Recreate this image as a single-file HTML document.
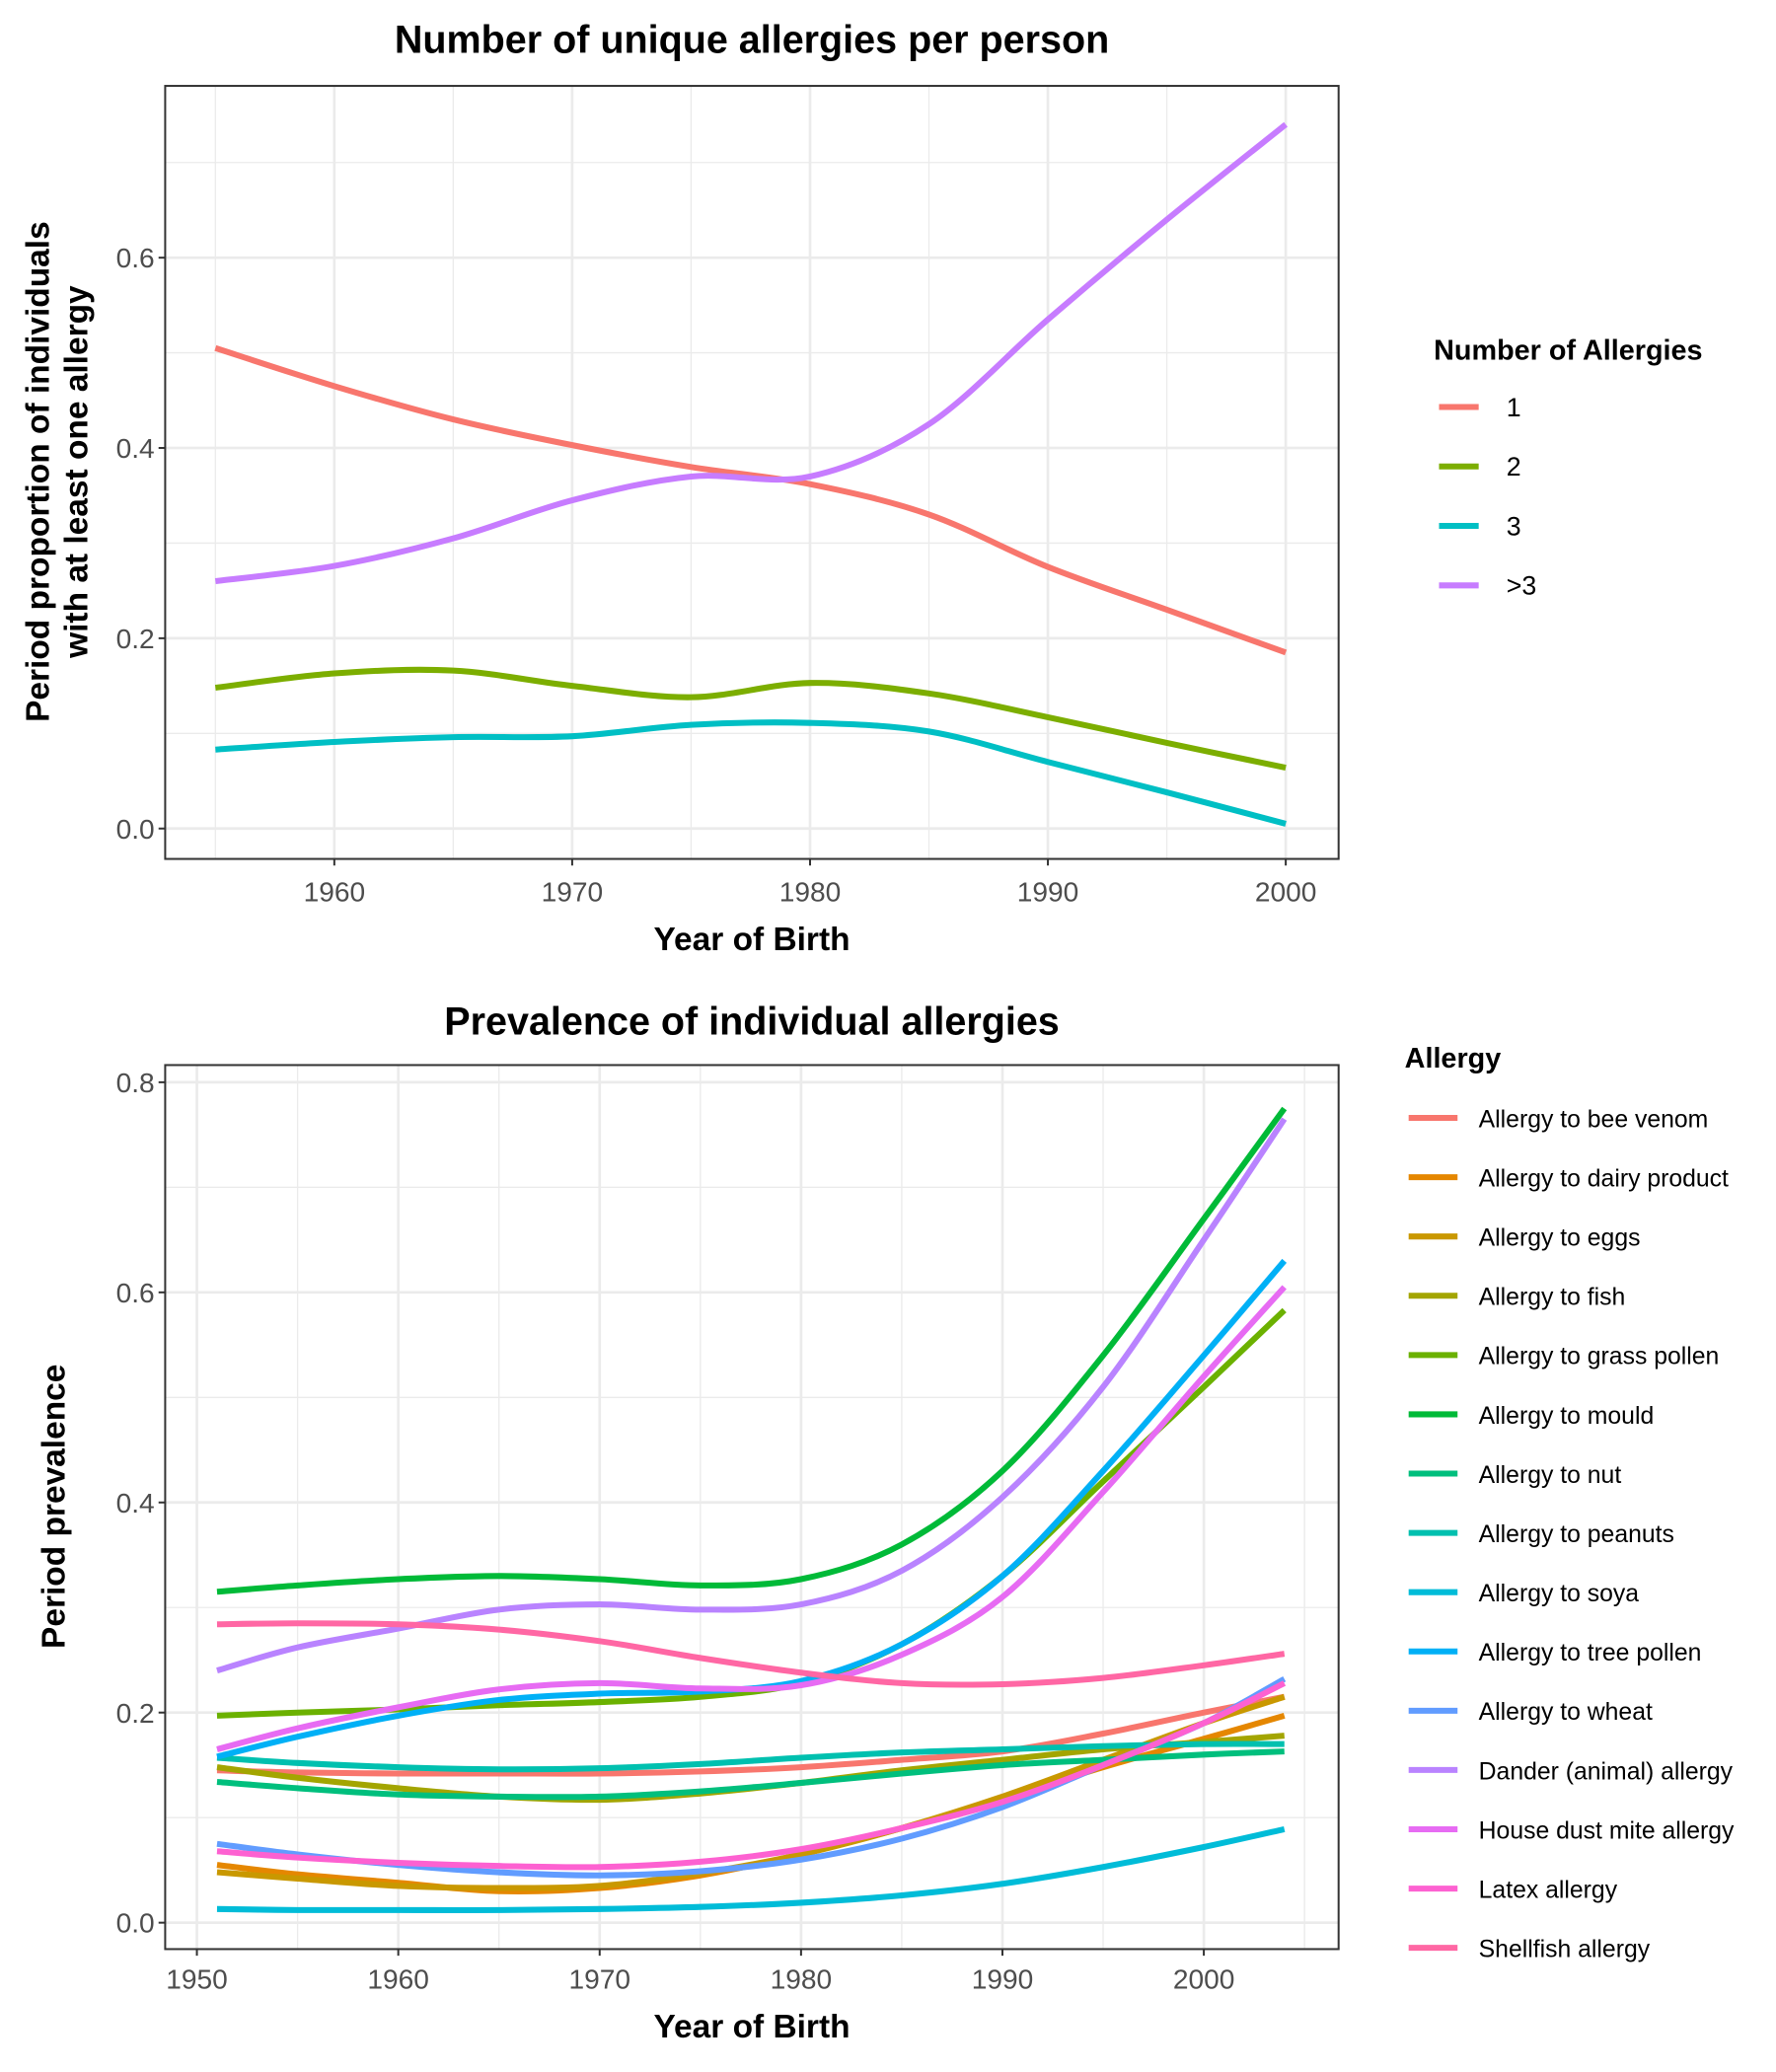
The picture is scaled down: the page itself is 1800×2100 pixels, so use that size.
<!DOCTYPE html>
<html><head><meta charset="utf-8">
<style>
html,body{margin:0;padding:0;background:#fff;}
svg{display:block;font-family:"Liberation Sans",sans-serif;}
</style></head>
<body>
<svg id="chart" width="1800" height="2100" viewBox="0 0 1344 1568" xmlns="http://www.w3.org/2000/svg">
<g id="top"></g>
<g id="bot"></g>
</svg>
<script>
const topYears=[1955,1960,1965,1970,1975,1980,1985,1990,1995,2000];
const topSeriesNames=["1","2","3",">3"];
const topOne=[0.505,0.465,0.43,0.403,0.38,0.362,0.33,0.275,0.23,0.185];
const topTwo=[0.148,0.163,0.166,0.15,0.138,0.153,0.142,0.117,0.09,0.064];
const topThree=[0.083,0.091,0.096,0.097,0.109,0.111,0.102,0.07,0.038,0.005];
const topMore=[0.26,0.276,0.305,0.345,0.37,0.37,0.425,0.535,0.64,0.74];
const topXTicks=[1960,1970,1980,1990,2000];
const topYTicks=[0,0.2,0.4,0.6];

const botYears=[1951,1955,1960,1965,1970,1975,1980,1985,1990,1995,2000,2004];
const botNames=["Allergy to bee venom","Allergy to dairy product","Allergy to eggs","Allergy to fish","Allergy to grass pollen","Allergy to mould","Allergy to nut","Allergy to peanuts","Allergy to soya","Allergy to tree pollen","Allergy to wheat","Dander (animal) allergy","House dust mite allergy","Latex allergy","Shellfish allergy"];
const beeVenom=[0.145,0.143,0.142,0.142,0.142,0.144,0.148,0.155,0.163,0.18,0.2,0.215];
const dairy=[0.055,0.046,0.038,0.03,0.033,0.045,0.065,0.09,0.118,0.148,0.175,0.197];
const eggs=[0.048,0.042,0.035,0.033,0.035,0.047,0.065,0.09,0.12,0.155,0.19,0.215];
const fish=[0.148,0.138,0.128,0.12,0.117,0.123,0.133,0.145,0.155,0.165,0.172,0.178];
const grassPollen=[0.197,0.2,0.203,0.207,0.21,0.215,0.228,0.265,0.33,0.42,0.51,0.583];
const mould=[0.315,0.321,0.327,0.33,0.327,0.321,0.327,0.36,0.43,0.54,0.67,0.775];
const nut=[0.134,0.128,0.122,0.12,0.12,0.125,0.133,0.142,0.15,0.155,0.16,0.163];
const peanuts=[0.157,0.152,0.148,0.146,0.147,0.151,0.157,0.162,0.165,0.168,0.17,0.17];
const soya=[0.013,0.012,0.012,0.012,0.013,0.015,0.019,0.026,0.037,0.053,0.072,0.089];
const treePollen=[0.158,0.177,0.197,0.212,0.218,0.22,0.23,0.265,0.33,0.43,0.54,0.63];
const wheat=[0.075,0.065,0.055,0.048,0.045,0.049,0.06,0.08,0.11,0.15,0.19,0.232];
const dander=[0.24,0.262,0.28,0.298,0.303,0.298,0.303,0.335,0.405,0.51,0.65,0.765];
const houseDust=[0.165,0.185,0.205,0.222,0.228,0.223,0.226,0.255,0.31,0.41,0.52,0.605];
const latex=[0.068,0.062,0.057,0.054,0.053,0.058,0.07,0.09,0.115,0.15,0.19,0.228];
const shellfish=[0.284,0.285,0.284,0.279,0.268,0.252,0.238,0.228,0.227,0.233,0.245,0.256];
const botXTicks=[1950,1960,1970,1980,1990,2000];
const botYTicks=[0,0.2,0.4,0.6,0.8];

const NS="http://www.w3.org/2000/svg";
function mk(parent,tag,attrs,text){const e=document.createElementNS(NS,tag);for(const k in attrs)e.setAttribute(k,attrs[k]);if(text!==undefined)e.textContent=text;parent.appendChild(e);return e;}
function smooth(pts){let d="M"+pts[0][0].toFixed(2)+","+pts[0][1].toFixed(2);for(let i=0;i<pts.length-1;i++){const p0=pts[Math.max(0,i-1)],p1=pts[i],p2=pts[i+1],p3=pts[Math.min(pts.length-1,i+2)];const c1=[p1[0]+(p2[0]-p0[0])/6,p1[1]+(p2[1]-p0[1])/6],c2=[p2[0]-(p3[0]-p1[0])/6,p2[1]-(p3[1]-p1[1])/6];d+="C"+c1.join(",")+" "+c2.join(",")+" "+p2.join(",");}return d;}

function panel(g,cfg){
  const {x0,x1,y0,y1,xs,ys,xMinor,yMinor,xTicks,yTicks,tickOff}=cfg;
  const bg=mk(g,"rect",{x:x0,y:y0,width:x1-x0,height:y1-y0,fill:"#fff"});
  
  
  const grid=mk(g,"g",{});
  
  
  xMinor.forEach(v=>mk(grid,"line",{x1:xs(v),x2:xs(v),y1:y0,y2:y1,stroke:"#ebebeb","stroke-width":1}));
  yMinor.forEach(v=>mk(grid,"line",{y1:ys(v),y2:ys(v),x1:x0,x2:x1,stroke:"#ebebeb","stroke-width":1}));
  xTicks.forEach(v=>mk(grid,"line",{x1:xs(v),x2:xs(v),y1:y0,y2:y1,stroke:"#ebebeb","stroke-width":2}));
  yTicks.forEach(v=>mk(grid,"line",{y1:ys(v),y2:ys(v),x1:x0,x2:x1,stroke:"#ebebeb","stroke-width":2}));
  const xa=mk(g,"g",{});
  
  
  xTicks.forEach(v=>{mk(xa,"line",{x1:xs(v),x2:xs(v),y1:y1,y2:y1+5,stroke:"#333","stroke-width":1.5});
    const t=mk(xa,"text",{x:xs(v),y:y1+tickOff,"text-anchor":"middle","font-size":21,fill:"#4d4d4d"},String(v));
    });
  const ya=mk(g,"g",{});
  
  
  yTicks.forEach(v=>{mk(ya,"line",{x1:x0-5,x2:x0,y1:ys(v),y2:ys(v),stroke:"#333","stroke-width":1.5});
    const t=mk(ya,"text",{x:x0-8,y:ys(v)+7.5,"text-anchor":"end","font-size":21,fill:"#4d4d4d"},v.toFixed(1));
    });
}

// TOP
const T=document.getElementById("top");
const tX=y=>253+(y-1960)*18, tY=v=>627-v*720;
panel(T,{x0:125,x1:1013,y0:65,y1:650,xs:tX,ys:tY,xMinor:[1955,1965,1975,1985,1995],yMinor:[0.1,0.3,0.5,0.7],xTicks:topXTicks,yTicks:topYTicks,tickOff:32});
const topCols=["#F8766D","#7CAE00","#00BFC4","#C77CFF"];
const topData=[topOne,topTwo,topThree,topMore];
topData.forEach((arr,i)=>{
  const p=mk(T,"path",{d:smooth(topYears.map((y,j)=>[tX(y),tY(arr[j])])),fill:"none",stroke:topCols[i],"stroke-width":4.5,"stroke-linejoin":"round"});
  
  
});
mk(T,"rect",{x:125,y:65,width:888,height:585,fill:"none",stroke:"#333","stroke-width":1.5});
let e;
e=mk(T,"text",{x:569,y:40,"text-anchor":"middle","font-size":29.5,"font-weight":"bold",fill:"#000"},"Number of unique allergies per person");

e=mk(T,"text",{x:569,y:719,"text-anchor":"middle","font-size":25,"font-weight":"bold",fill:"#000"},"Year of Birth");

e=mk(T,"text",{transform:"translate(37,357) rotate(-90)","text-anchor":"middle","font-size":25,"font-weight":"bold",fill:"#000"},"Period proportion of individuals");

e=mk(T,"text",{transform:"translate(66,357) rotate(-90)","text-anchor":"middle","font-size":25,"font-weight":"bold",fill:"#000"},"with at least one allergy");

const TL=mk(T,"g",{});

e=mk(TL,"text",{x:1085,y:272,"font-size":21.5,"font-weight":"bold",fill:"#000"},"Number of Allergies");

topSeriesNames.forEach((n,i)=>{const yy=308+i*45;
  const k=mk(TL,"g",{});
  
  mk(k,"line",{x1:1089,x2:1119,y1:yy,y2:yy,stroke:topCols[i],"stroke-width":4.5});
  mk(k,"text",{x:1140,y:yy+7,"font-size":20,fill:"#000"},n);});

// BOTTOM
const B=document.getElementById("bot");
const bX=y=>149+(y-1950)*15.24, bY=v=>1455-v*795;
panel(B,{x0:125,x1:1013,y0:806,y1:1475,xs:bX,ys:bY,xMinor:[1955,1965,1975,1985,1995,2005],yMinor:[0.1,0.3,0.5,0.7],xTicks:botXTicks,yTicks:botYTicks,tickOff:30});
const botCols=["#F8766D","#E58700","#C99800","#A3A500","#6BB100","#00BA38","#00BF7D","#00C0AF","#00BCD8","#00B0F6","#619CFF","#B983FF","#E76BF3","#FD61D1","#FF67A4"];
const botData=[beeVenom,dairy,eggs,fish,grassPollen,mould,nut,peanuts,soya,treePollen,wheat,dander,houseDust,latex,shellfish];
botData.forEach((arr,i)=>{
  const p=mk(B,"path",{d:smooth(botYears.map((y,j)=>[bX(y),bY(arr[j])])),fill:"none",stroke:botCols[i],"stroke-width":4.5,"stroke-linejoin":"round"});
  
  
});
mk(B,"rect",{x:125,y:806,width:888,height:669,fill:"none",stroke:"#333","stroke-width":1.5});
e=mk(B,"text",{x:569,y:783,"text-anchor":"middle","font-size":29.5,"font-weight":"bold",fill:"#000"},"Prevalence of individual allergies");

e=mk(B,"text",{x:569,y:1542,"text-anchor":"middle","font-size":25,"font-weight":"bold",fill:"#000"},"Year of Birth");

e=mk(B,"text",{transform:"translate(49,1140) rotate(-90)","text-anchor":"middle","font-size":25,"font-weight":"bold",fill:"#000"},"Period prevalence");

const BL=mk(B,"g",{});

e=mk(BL,"text",{x:1063,y:808,"font-size":21.5,"font-weight":"bold",fill:"#000"},"Allergy");

botNames.forEach((n,i)=>{const yy=846+i*44.86;
  const k=mk(BL,"g",{});
  
  mk(k,"line",{x1:1066,x2:1103,y1:yy,y2:yy,stroke:botCols[i],"stroke-width":4.5});
  mk(k,"text",{x:1119,y:yy+7,"font-size":18.5,fill:"#000"},n);});
</script>
</body></html>
